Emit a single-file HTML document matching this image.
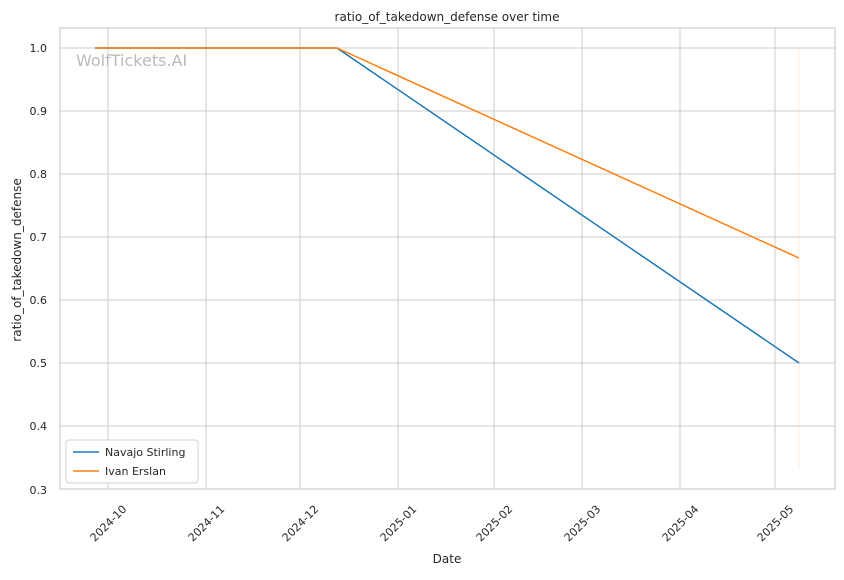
<!DOCTYPE html>
<html><head><meta charset="utf-8"><style>
body{margin:0;background:#fff;}
text{font-family:"DejaVu Sans","Liberation Sans",sans-serif;fill:#262626;}
</style></head><body>
<svg width="844" height="575" viewBox="0 0 844 575" xmlns="http://www.w3.org/2000/svg">
<rect width="844" height="575" fill="#fff"/>
<g stroke="#cccccc" stroke-width="1">
<line x1="108" y1="28" x2="108" y2="489"/><line x1="206" y1="28" x2="206" y2="489"/>
<line x1="300" y1="28" x2="300" y2="489"/><line x1="398" y1="28" x2="398" y2="489"/>
<line x1="494" y1="28" x2="494" y2="489"/><line x1="582" y1="28" x2="582" y2="489"/>
<line x1="680" y1="28" x2="680" y2="489"/><line x1="775" y1="28" x2="775" y2="489"/>
<line x1="60" y1="48" x2="835" y2="48"/><line x1="60" y1="111" x2="835" y2="111"/>
<line x1="60" y1="174" x2="835" y2="174"/><line x1="60" y1="237" x2="835" y2="237"/>
<line x1="60" y1="300" x2="835" y2="300"/><line x1="60" y1="363" x2="835" y2="363"/>
<line x1="60" y1="426" x2="835" y2="426"/>
</g>
<rect x="60" y="28" width="775" height="461" fill="none" stroke="#cccccc" stroke-width="1.2"/>
<text x="76" y="66" font-size="16" style="fill:#bbbbbb">WolfTickets.AI</text>
<line x1="799" y1="48" x2="799" y2="468" stroke="#ff7f0e" stroke-opacity="0.15" stroke-width="1"/>
<polyline points="95,48 337,48 799,363" fill="none" stroke="#1f77b4" stroke-width="1.5"/>
<polyline points="95,48 337,48 799,258" fill="none" stroke="#ff7f0e" stroke-width="1.5"/>
<g font-size="11" text-anchor="end">
<text x="47" y="52">1.0</text><text x="47" y="115">0.9</text><text x="47" y="178">0.8</text>
<text x="47" y="241">0.7</text><text x="47" y="304">0.6</text><text x="47" y="367">0.5</text>
<text x="47" y="430">0.4</text><text x="47" y="494">0.3</text>
</g>
<g font-size="11" text-anchor="middle">
<text transform="translate(111,526) rotate(-45)">2024-10</text>
<text transform="translate(209,526) rotate(-45)">2024-11</text>
<text transform="translate(303,526) rotate(-45)">2024-12</text>
<text transform="translate(401,526) rotate(-45)">2025-01</text>
<text transform="translate(497,526) rotate(-45)">2025-02</text>
<text transform="translate(585,526) rotate(-45)">2025-03</text>
<text transform="translate(683,526) rotate(-45)">2025-04</text>
<text transform="translate(778,526) rotate(-45)">2025-05</text>
</g>
<text x="447" y="563" font-size="12" text-anchor="middle">Date</text>
<text transform="translate(21,260) rotate(-90)" font-size="12" text-anchor="middle">ratio_of_takedown_defense</text>
<text x="447" y="21" font-size="12" text-anchor="middle">ratio_of_takedown_defense over time</text>
<rect x="66" y="440" width="132" height="43" rx="3" fill="#fff" stroke="#d0d0d0"/>
<line x1="73" y1="452" x2="99" y2="452" stroke="#1f77b4" stroke-width="1.5"/>
<line x1="73" y1="471" x2="99" y2="471" stroke="#ff7f0e" stroke-width="1.5"/>
<text x="105" y="456" font-size="11">Navajo Stirling</text>
<text x="105" y="475" font-size="11">Ivan Erslan</text>
</svg>
</body></html>
